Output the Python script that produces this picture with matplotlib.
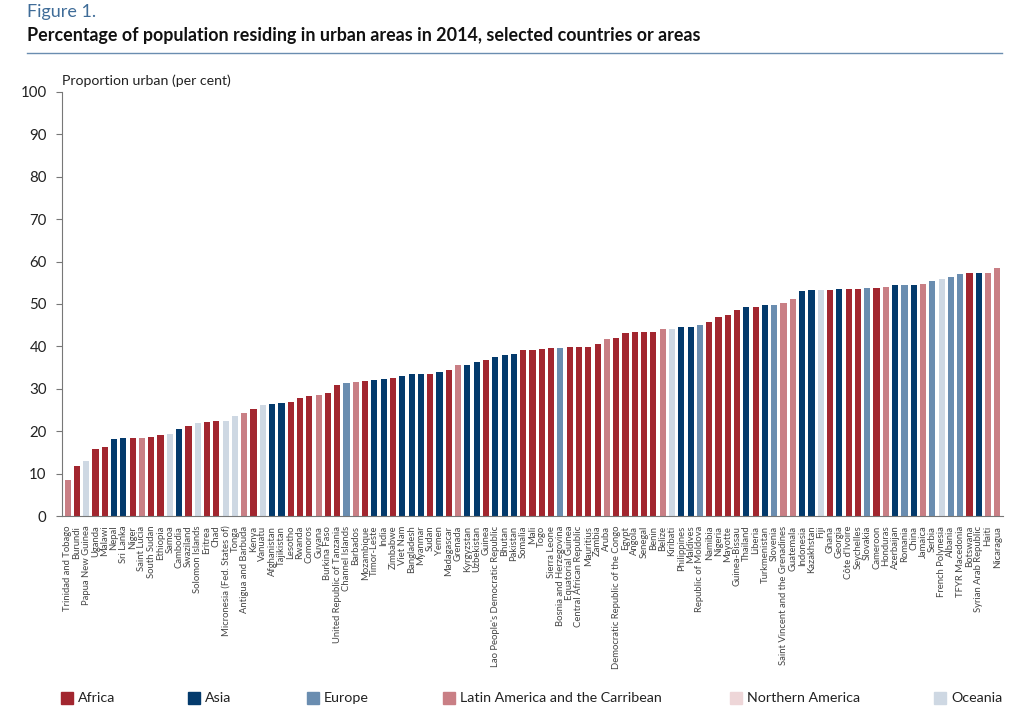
import matplotlib
matplotlib.use("Agg")
import matplotlib.pyplot as plt
from matplotlib.lines import Line2D

plt.rcParams['font.family'] = ['Lato', 'DejaVu Sans']

countries = [
    "Trinidad and Tobago", "Burundi", "Papua New Guinea", "Uganda", "Malawi", "Nepal",
    "Sri Lanka", "Niger", "Saint Lucia", "South Sudan", "Ethiopia", "Samoa", "Cambodia",
    "Swaziland", "Solomon Islands", "Eritrea", "Chad", "Micronesia (Fed. States of)",
    "Tonga", "Antigua and Barbuda", "Kenya", "Vanuatu", "Afghanistan", "Tajikistan",
    "Lesotho", "Rwanda", "Comoros", "Guyana", "Burkina Faso",
    "United Republic of Tanzania", "Channel Islands", "Barbados", "Mozambique",
    "Timor-Leste", "India", "Zimbabwe", "Viet Nam", "Bangladesh", "Myanmar", "Sudan",
    "Yemen", "Madagascar", "Grenada", "Kyrgyzstan", "Uzbekistan", "Guinea",
    "Lao People's Democratic Republic", "Bhutan", "Pakistan", "Somalia", "Mali", "Togo",
    "Sierra Leone", "Bosnia and Herzegovina", "Equatorial Guinea",
    "Central African Republic", "Mauritius", "Zambia", "Aruba",
    "Democratic Republic of the Congo", "Egypt", "Angola", "Senegal", "Benin", "Belize",
    "Kiribati", "Philippines", "Maldives", "Republic of Moldova", "Namibia", "Nigeria",
    "Mayotte", "Guinea-Bissau", "Thailand", "Liberia", "Turkmenistan", "Slovenia",
    "Saint Vincent and the Grenadines", "Guatemala", "Indonesia", "Kazakhstan", "Fiji",
    "Ghana", "Georgia", "Côte d'Ivoire", "Seychelles", "Slovakia", "Cameroon",
    "Honduras", "Azerbaijan", "Romania", "China", "Jamaica", "Serbia",
    "French Polynesia", "Albania", "TFYR Macedonia", "Botswana", "Syrian Arab Republic",
    "Haiti", "Nicaragua",
]

regions = [
    "LatAm", "Africa", "Oceania", "Africa", "Africa", "Asia",
    "Asia", "Africa", "LatAm", "Africa", "Africa", "Oceania", "Asia",
    "Africa", "Oceania", "Africa", "Africa", "Oceania",
    "Oceania", "LatAm", "Africa", "Oceania", "Asia", "Asia",
    "Africa", "Africa", "Africa", "LatAm", "Africa",
    "Africa", "Europe", "LatAm", "Africa",
    "Asia", "Asia", "Africa", "Asia", "Asia", "Asia", "Africa",
    "Asia", "Africa", "LatAm", "Asia", "Asia", "Africa",
    "Asia", "Asia", "Asia", "Africa", "Africa", "Africa",
    "Africa", "Europe", "Africa",
    "Africa", "Africa", "Africa", "LatAm",
    "Africa", "Africa", "Africa", "Africa", "Africa", "LatAm",
    "Oceania", "Asia", "Asia", "Europe", "Africa", "Africa",
    "Africa", "Africa", "Asia", "Africa", "Asia", "Europe",
    "LatAm", "LatAm", "Asia", "Asia", "Oceania",
    "Africa", "Asia", "Africa", "Africa", "Europe", "Africa",
    "LatAm", "Asia", "Europe", "Asia", "LatAm", "Europe",
    "Oceania", "Europe", "Europe", "Africa", "Asia",
    "LatAm", "LatAm",
]

urban_pct = [
    8.5, 11.8, 13.0, 15.8, 16.2, 18.2,
    18.3, 18.5, 18.5, 18.6, 19.0, 19.4, 20.5,
    21.3, 21.9, 22.2, 22.3, 22.4,
    23.6, 24.2, 25.2, 26.1, 26.5, 26.7,
    26.8, 27.8, 28.2, 28.5, 29.0,
    30.9, 31.4, 31.6, 31.9,
    32.1, 32.4, 32.5, 33.0, 33.5, 33.6, 33.6,
    34.0, 34.5, 35.6, 35.6, 36.3, 36.7,
    37.6, 37.9, 38.3, 39.1, 39.1, 39.5,
    39.6, 39.6, 39.8,
    39.8, 39.8, 40.5, 41.8,
    42.0, 43.1, 43.3, 43.3, 43.4, 44.0,
    44.1, 44.5, 44.5, 45.0, 45.7, 46.9,
    47.3, 48.5, 49.2, 49.3, 49.7, 49.7,
    50.2, 51.1, 53.0, 53.3, 53.4,
    53.4, 53.5, 53.5, 53.6, 53.8, 53.8,
    54.1, 54.4, 54.4, 54.4, 54.6, 55.5,
    56.0, 56.4, 57.0, 57.2, 57.3,
    57.4, 58.5,
]

legend_keys = ["Africa", "Asia", "Europe", "LatAm", "NorthAm", "Oceania"]
legend_labels = ["Africa", "Asia", "Europe", "Latin America and the Carribean",
                 "Northern America", "Oceania"]
region_colors = {
    "Africa": "#A2262F",
    "Asia": "#033A6C",
    "Europe": "#6A8DB0",
    "LatAm": "#C97F85",
    "NorthAm": "#EED6D8",
    "Oceania": "#CED8E3",
}

yticks = [0, 10, 20, 30, 40, 50, 60, 70, 80, 90, 100]

fig = plt.figure(figsize=(10.24, 7.22), dpi=100)
ax = fig.add_axes([62 / 1024, 1 - 516 / 722, (1003 - 62) / 1024, (516 - 92) / 722])

x = list(range(len(countries)))
ax.bar(x, urban_pct, width=0.66, color=[region_colors[r] for r in regions], zorder=2)

ax.set_xlim(-0.6, len(countries) - 0.4)
ax.set_ylim(0, 100)
ax.set_yticks(yticks)
ax.set_yticklabels([str(v) for v in yticks], fontsize=10.8, color="#222222")
ax.set_xticks(x)
ax.set_xticklabels(countries, rotation=90, fontsize=6.8, color="#444444")
ax.tick_params(axis='x', length=0, pad=7)
ax.tick_params(axis='y', length=4, width=0.8, color="#777777", pad=7, direction='out')

for s in ['top', 'right']:
    ax.spines[s].set_visible(False)
ax.spines['left'].set_color("#777777")
ax.spines['left'].set_linewidth(0.8)
ax.spines['bottom'].set_color("#777777")
ax.spines['bottom'].set_linewidth(0.8)

ax.text(0.0, 1.012, "Proportion urban (per cent)", transform=ax.transAxes,
        fontsize=10.2, ha='left', va='bottom', color="#222222")

# Titles
fig.text(27 / 1024, 1 - 12 / 722, "Figure 1.", fontsize=13, color="#3F6C98",
         ha='left', va='center')
fig.text(27 / 1024, 1 - 36 / 722,
         "Percentage of population residing in urban areas in 2014, selected countries or areas",
         fontsize=12.9, fontweight='bold', color="#111111", ha='left', va='center')
fig.add_artist(Line2D([27 / 1024, 1002 / 1024], [1 - 53 / 722, 1 - 53 / 722],
                      color="#6A8DB0", linewidth=1.0, transform=fig.transFigure))

# Legend
sq_x = [61, 188, 307, 443, 730, 934]
for key, lab, sx in zip(legend_keys, legend_labels, sq_x):
    fig.add_artist(plt.Rectangle((sx / 1024, 1 - 704 / 722), 12 / 1024, 12 / 722,
                                 color=region_colors[key], transform=fig.transFigure))
    fig.text((sx + 17) / 1024, 1 - 698 / 722, lab, fontsize=10.3, color="#222222",
             ha='left', va='center')

fig.savefig("out.png", dpi=100, facecolor="white")
